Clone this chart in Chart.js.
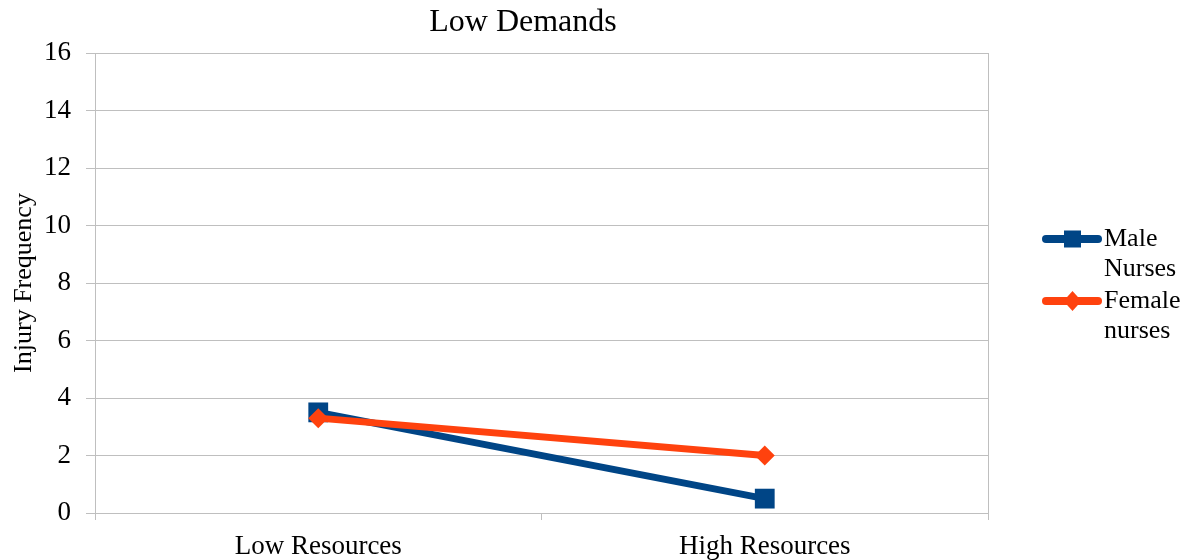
<!DOCTYPE html>
<html>
<head>
<meta charset="utf-8">
<script src="https://cdn.jsdelivr.net/npm/chart.js@4/dist/chart.umd.min.js"></script>
<style>
  html, body { margin: 0; padding: 0; background: #ffffff; }
  #wrap { width: 1189px; height: 560px; position: relative; }
</style>
</head>
<body>
<div id="wrap"><canvas id="chart" width="1189" height="560"></canvas></div>
<script>
// Categories and series
const categories = ['Low Resources', 'High Resources'];
const maleNurses = [3.5, 0.5];
const femaleNurses = [3.3, 2.0];
const yTicks = [0, 2, 4, 6, 8, 10, 12, 14, 16];

const chartTitle = 'Low Demands';
const yTitle = 'Injury Frequency';
const legendItems = [
  { lines: ['Male', 'Nurses'], color: '#004586', style: 'rect' },
  { lines: ['Female', 'nurses'], color: '#ff420e', style: 'rectRot' }
];

const FONT = '"Liberation Serif", "Times New Roman", serif';
const GRID = '#bfbfbf';

// Title, right frame edge and legend drawn on the canvas
const decor = {
  id: 'decor',
  afterDraw(chart) {
    const ctx = chart.ctx;
    const a = chart.chartArea;
    ctx.save();
    // right edge of the plot frame
    ctx.strokeStyle = GRID;
    ctx.lineWidth = 1;
    ctx.beginPath();
    ctx.moveTo(Math.round(a.right) + 0.5, a.top);
    ctx.lineTo(Math.round(a.right) + 0.5, a.bottom + 7);
    ctx.stroke();

    // title
    ctx.fillStyle = '#000';
    ctx.font = '32px ' + FONT;
    ctx.textAlign = 'center';
    ctx.textBaseline = 'middle';
    ctx.fillText(chartTitle, 523, 23);

    // legend
    ctx.font = '26px ' + FONT;
    ctx.textAlign = 'left';
    const x0 = 1046, x1 = 1098, tx = 1104;
    const rows = [239, 301];
    legendItems.forEach((it, i) => {
      const y = rows[i];
      ctx.strokeStyle = it.color;
      ctx.lineWidth = 8;
      ctx.lineCap = 'round';
      ctx.beginPath();
      ctx.moveTo(x0, y);
      ctx.lineTo(x1, y);
      ctx.stroke();
      ctx.fillStyle = it.color;
      const cx = (x0 + x1) / 2 + 0.5;
      if (it.style === 'rect') {
        ctx.fillRect(cx - 8.5, y - 8.5, 17, 17);
      } else {
        ctx.beginPath();
        ctx.moveTo(cx, y - 10);
        ctx.lineTo(cx + 9, y);
        ctx.lineTo(cx, y + 10);
        ctx.lineTo(cx - 9, y);
        ctx.closePath();
        ctx.fill();
      }
      ctx.fillStyle = '#000';
      it.lines.forEach((t, j) => ctx.fillText(t, tx, y + j * 30));
    });
    ctx.restore();
  }
};

new Chart(document.getElementById('chart'), {
  type: 'line',
  data: {
    labels: categories,
    datasets: [
      {
        label: 'Male Nurses',
        data: maleNurses,
        order: 1,
        borderColor: '#004586',
        backgroundColor: '#004586',
        borderWidth: 7,
        pointStyle: 'rect',
        pointRadius: 14,
        pointHoverRadius: 14,
        pointBorderWidth: 0,
        tension: 0
      },
      {
        label: 'Female nurses',
        data: femaleNurses,
        order: 0,
        borderColor: '#ff420e',
        backgroundColor: '#ff420e',
        borderWidth: 7,
        pointStyle: 'rectRot',
        pointRadius: 10,
        pointHoverRadius: 10,
        pointBorderWidth: 0,
        tension: 0
      }
    ]
  },
  options: {
    responsive: false,
    animation: false,
    events: [],
    layout: { padding: { top: 53, right: 201, bottom: 0, left: 0 } },
    plugins: {
      legend: { display: false },
      title: { display: false },
      tooltip: { enabled: false }
    },
    scales: {
      x: {
        offset: true,
        grid: {
          offset: true,
          drawOnChartArea: false,
          drawTicks: true,
          tickLength: 7,
          color: GRID
        },
        border: { color: GRID, width: 1 },
        ticks: {
          color: '#000',
          font: { family: FONT, size: 27, lineHeight: 1.1 },
          padding: 12,
          maxRotation: 0
        },
        afterFit(axis) { axis.height = 47; }
      },
      y: {
        min: 0,
        max: 16,
        afterBuildTicks(axis) { axis.ticks = yTicks.map(v => ({ value: v })); },
        afterFit(axis) { axis.width = 95; },
        grid: { color: GRID, tickLength: 9 },
        border: { color: GRID, width: 1 },
        ticks: {
          color: '#000',
          font: { family: FONT, size: 27 },
          padding: 15
        },
        title: {
          display: true,
          text: yTitle,
          color: '#000',
          font: { family: FONT, size: 26 },
          padding: { top: 9, bottom: 0 }
        }
      }
    }
  },
  plugins: [decor]
});
</script>
</body>
</html>
